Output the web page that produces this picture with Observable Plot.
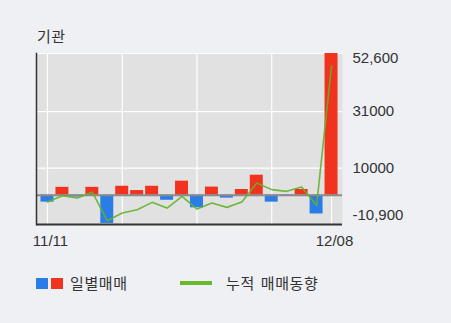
<!DOCTYPE html>
<html>
<head>
<meta charset="utf-8">
<script src="https://cdn.jsdelivr.net/npm/d3@7"></script>
<script src="https://cdn.jsdelivr.net/npm/@observablehq/plot@0.6"></script>
<style>
  html, body { margin: 0; padding: 0; background: #eef0f3; }
  #wrap { position: relative; width: 451px; height: 323px; overflow: hidden;
          font-family: "Noto Sans CJK KR", "Liberation Sans", sans-serif; color: #333; }
  #title { position: absolute; left: 37px; top: 28px; font-size: 15px; line-height: 15px; letter-spacing: 0.5px; }
  .lg { position: absolute; font-size: 15px; line-height: 15px; white-space: nowrap; letter-spacing: 0.6px; }
  .sw { position: absolute; }
  #chart { position: absolute; left: 0; top: 0; }
</style>
</head>
<body>
<div id="wrap">
  <div id="chart"></div>
  <div id="title">기관</div>
  <div class="sw" style="left:36px;top:278px;width:12px;height:11px;background:#2a7de6"></div>
  <div class="sw" style="left:51px;top:278px;width:12px;height:11px;background:#f0321e"></div>
  <div class="lg" style="left:70px;top:275px;">일별매매</div>
  <div class="sw" style="left:180px;top:281px;width:32px;height:4px;background:#6ab82c"></div>
  <div class="lg" style="left:226px;top:275px;word-spacing:2px;">누적 매매동향</div>
</div>
<script>
const dates = ["11/11","11/14","11/15","11/16","11/17","11/18","11/21","11/22","11/23","11/24",
               "11/25","11/28","11/29","11/30","12/01","12/02","12/05","12/06","12/07","12/08"];
const daily = [-2600, 2900, -700, 2900, -10500, 3300, 1700, 3300, -1900, 5200,
               -4700, 3000, -1100, 2100, 7400, -2600, -300, 2100, -7000, 52600];
const cumulative = [-2570, -190, -1080, 1150, -9490, -6660, -5390, -2680, -4800, -450,
                    -5170, -2940, -4540, -2570, 4500, 2050, 1410, 3010, -3800, 47900];
const yTicks = [52600, 31000, 10000, -10900];
const yTickLabels = ["52,600", "31000", "10000", "-10,900"];
const xTickDates = ["11/11", "12/08"];
const gridDates = ["11/11", "11/18", "11/25", "12/02", "12/08"];

const rows = dates.map((d, i) => ({date: d, daily: daily[i], cum: cumulative[i]}));
const labelOf = v => yTickLabels[yTicks.indexOf(v)];

const chart = Plot.plot({
  width: 451,
  height: 323,
  marginLeft: 36,
  marginRight: 109,
  marginTop: 53,
  marginBottom: 99,
  style: {background: "transparent", fontFamily: "'Liberation Sans', 'Noto Sans CJK KR', sans-serif", fontSize: "15px", color: "#333"},
  x: {domain: dates, type: "band", paddingInner: 0.133, paddingOuter: 0.3, round: false, axis: null, label: null},
  y: {domain: [-10900, 52600], axis: null, label: null},
  marks: [
    Plot.frame({fill: "#e1e1e1", stroke: null}),
    Plot.ruleY(yTicks.slice(0, 3), {stroke: "#fff", strokeWidth: 1.2}),
    Plot.ruleX(gridDates, {stroke: "#fff", strokeWidth: 1.2}),
    Plot.barY(rows.filter(d => d.daily >= 0), {x: "date", y: "daily", fill: "#f0321e"}),
    Plot.barY(rows.filter(d => d.daily < 0), {x: "date", y: "daily", fill: "#2a7de6"}),
    Plot.ruleY([0], {stroke: "#8a8a8a", strokeWidth: 2}),
    Plot.lineY(rows, {x: "date", y: "cum", stroke: "#62b32a", strokeWidth: 1.6, strokeOpacity: 0.9}),
    Plot.ruleY([-10900], {stroke: "#333", strokeWidth: 2}),
    Plot.frame({anchor: "left", stroke: "#333", strokeWidth: 1.5}),
    Plot.axisY([52600], {anchor: "right", tickSize: 0, tickPadding: 10, textAnchor: "start", dy: 5, tickFormat: labelOf, fill: "#333", label: null}),
    Plot.axisY([31000, 10000], {anchor: "right", tickSize: 0, tickPadding: 10, textAnchor: "start", tickFormat: labelOf, fill: "#333", label: null}),
    Plot.axisY([-10900], {anchor: "right", tickSize: 0, tickPadding: 10, textAnchor: "start", dy: -9, tickFormat: labelOf, fill: "#333", label: null}),
    Plot.axisX(xTickDates, {anchor: "bottom", tickSize: 0, tickPadding: 11, dx: 3, fill: "#333", label: null})
  ]
});
document.getElementById("chart").appendChild(chart);
</script>
</body>
</html>
